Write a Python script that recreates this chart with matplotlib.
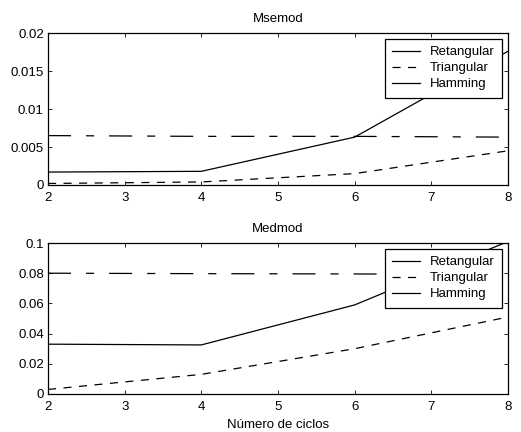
import matplotlib
matplotlib.use("Agg")
import matplotlib.pyplot as plt

plt.rcParams['font.family'] = ['Liberation Sans', 'DejaVu Sans']
plt.rcParams['lines.scale_dashes'] = False

ciclos = [2, 4, 6, 8]
mse_ret = [0.0017, 0.0018, 0.0063, 0.0176]
mse_tri = [0.0002, 0.0004, 0.0015, 0.0045]
mse_ham = [0.0065, 0.0064, 0.0064, 0.0063]

med_ret = [0.033, 0.0325, 0.059, 0.101]
med_tri = [0.003, 0.013, 0.030, 0.051]
med_ham = [0.080, 0.0797, 0.0795, 0.0792]

labels = ['Retangular', 'Triangular', 'Hamming']

FS = 9.5
TRI_DASH = (5.8, 5.4)
HAM_DASH = (16.6, 10.8, 5.8, 10.8)

fig = plt.figure(figsize=(5.21, 4.32), dpi=100)
ax1 = fig.add_axes([48/521, 1-185/432, 460/521, 152/432])
ax2 = fig.add_axes([48/521, 1-394/432, 460/521, 151/432])

def draw(ax, r, t, h, title, ylim, yticks, yticklabels):
    lw = 0.9
    ax.plot(ciclos, r, color='black', lw=lw, label=labels[0])
    ax.plot(ciclos, t, color='black', lw=lw, dashes=TRI_DASH, label=labels[1])
    ax.plot(ciclos, h, color='black', lw=lw, dashes=HAM_DASH, label=labels[2])
    ax.set_xlim(2, 8)
    ax.set_ylim(*ylim)
    ax.set_xticks([2, 3, 4, 5, 6, 7, 8])
    ax.set_yticks(yticks)
    ax.set_yticklabels(yticklabels)
    ax.tick_params(direction='in', top=True, right=True, labelsize=FS, length=3, width=0.6)
    ax.tick_params(axis='x', pad=5)
    ax.tick_params(axis='y', pad=3)
    for s in ax.spines.values():
        s.set_linewidth(0.9)
    ax.set_title(title, fontsize=FS, pad=8)
    leg = ax.legend(loc='upper right', fontsize=FS, frameon=True, fancybox=False,
                    edgecolor='black', framealpha=1, borderaxespad=0.45,
                    handlelength=2.05, handletextpad=0.8, labelspacing=0.28,
                    borderpad=0.55)
    leg.get_frame().set_linewidth(0.9)
    leg.get_frame().set_edgecolor('black')
    leg.get_lines()[2].set_linestyle('-')

draw(ax1, mse_ret, mse_tri, mse_ham, 'Msemod', (0, 0.02),
     [0, 0.005, 0.01, 0.015, 0.02], ['0', '0.005', '0.01', '0.015', '0.02'])
draw(ax2, med_ret, med_tri, med_ham, 'Medmod', (0, 0.1),
     [0, 0.02, 0.04, 0.06, 0.08, 0.1], ['0', '0.02', '0.04', '0.06', '0.08', '0.1'])
ax2.set_xlabel('Número de ciclos', fontsize=FS, labelpad=4)

fig.savefig('out.png', dpi=100)
